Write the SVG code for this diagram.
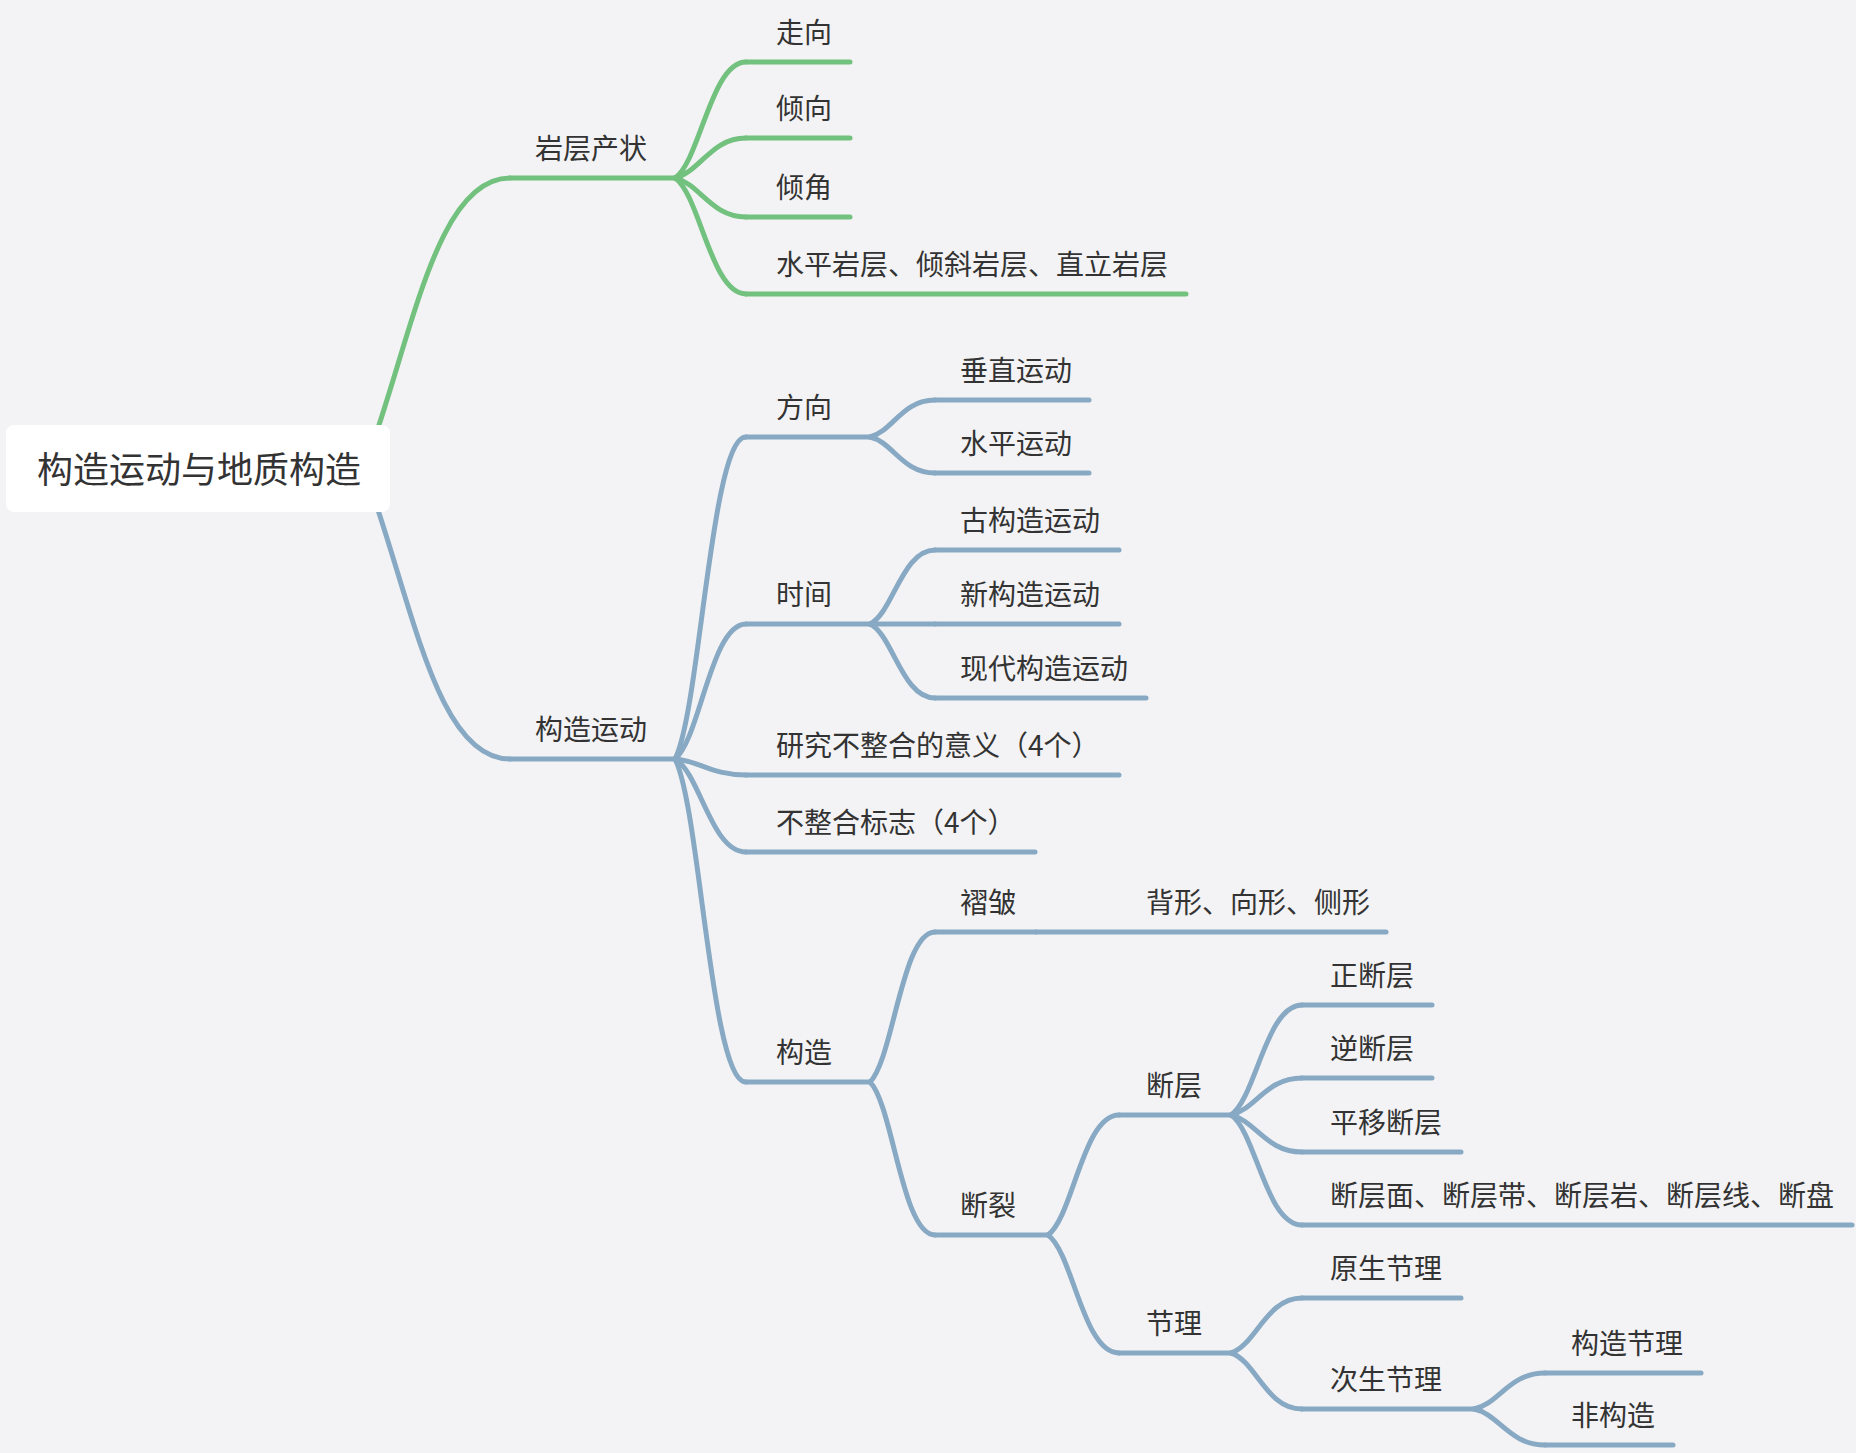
<svg xmlns="http://www.w3.org/2000/svg" width="1856" height="1453" viewBox="0 0 1856 1453">
<style>
  .bg { fill: #f3f3f5; }
  .c { fill: none; stroke-width: 5; stroke-linecap: round; stroke-linejoin: round; }
  .g { stroke: #73c17e; }
  .b { stroke: #88a9c4; }
  .u { fill: none; stroke-width: 5; stroke-linecap: round; }
  text { font-family: "Noto Sans CJK SC", "Noto Sans", sans-serif; fill: #333333; }
  .t { font-size: 28px; }
  .root { font-size: 36px; }
</style>
<rect class="bg" x="0" y="0" width="1856" height="1453"/>

<g id="connectors">
  <path class="c g" d="M374 440 C415 320 440 178 510 178"/>
  <path class="c b" d="M374 498 C415 618 440 759 510 759"/>
  <!-- 岩层产状 children -->
  <path class="c g" d="M675 178 C700 161 711 62 746 62"/>
  <path class="c g" d="M675 178 C700 172 711 138 746 138"/>
  <path class="c g" d="M675 178 C700 184 711 217 746 217"/>
  <path class="c g" d="M675 178 C700 195 711 294 746 294"/>
  <!-- 构造运动 children -->
  <path class="c b" d="M675 759 C700 711 711 437 746 437"/>
  <path class="c b" d="M675 759 C700 739 711 624 746 624"/>
  <path class="c b" d="M675 759 C700 761 711 775 746 775"/>
  <path class="c b" d="M675 759 C700 773 711 852 746 852"/>
  <path class="c b" d="M675 759 C700 807 711 1082 746 1082"/>
  <!-- 方向 -->
  <path class="c b" d="M870 437 C893 431 902 400 935 400"/>
  <path class="c b" d="M870 437 C893 442 902 473 935 473"/>
  <!-- 时间 -->
  <path class="c b" d="M870 624 C893 613 902 550 935 550"/>
  <path class="c b" d="M870 624 L935 624"/>
  <path class="c b" d="M870 624 C893 635 902 698 935 698"/>
  <!-- 构造 -->
  <path class="c b" d="M870 1082 C893 1060 902 932 935 932"/>
  <path class="c b" d="M870 1082 C893 1105 902 1235 935 1235"/>
  <!-- 断裂 -->
  <path class="c b" d="M1048 1235 C1073 1217 1083 1115 1119 1115"/>
  <path class="c b" d="M1048 1235 C1073 1253 1083 1353 1119 1353"/>
  <!-- 断层 -->
  <path class="c b" d="M1231 1115 C1256 1098 1266 1005 1302 1005"/>
  <path class="c b" d="M1231 1115 C1256 1109 1266 1078 1302 1078"/>
  <path class="c b" d="M1231 1115 C1256 1121 1266 1152 1302 1152"/>
  <path class="c b" d="M1231 1115 C1256 1132 1266 1225 1302 1225"/>
  <!-- 节理 -->
  <path class="c b" d="M1231 1353 C1256 1345 1266 1298 1302 1298"/>
  <path class="c b" d="M1231 1353 C1256 1361 1266 1409 1302 1409"/>
  <!-- 次生节理 -->
  <path class="c b" d="M1474 1409 C1499 1404 1509 1373 1545 1373"/>
  <path class="c b" d="M1474 1409 C1499 1414 1509 1445 1545 1445"/>
</g>

<g id="node-root">
  <rect x="6" y="425" width="384" height="87" rx="8" ry="8" fill="#ffffff"/>
  <text class="root" x="37" y="483">构造运动与地质构造</text>
</g>

<g id="node-yanceng">
  <line class="u g" x1="510" y1="178" x2="675" y2="178"/>
  <text class="t" x="535" y="159">岩层产状</text>
</g>
<g id="node-zouxiang">
  <line class="u g" x1="746" y1="62" x2="850" y2="62"/>
  <text class="t" x="776" y="43">走向</text>
</g>
<g id="node-qingxiang">
  <line class="u g" x1="746" y1="138" x2="850" y2="138"/>
  <text class="t" x="776" y="119">倾向</text>
</g>
<g id="node-qingjiao">
  <line class="u g" x1="746" y1="217" x2="850" y2="217"/>
  <text class="t" x="776" y="198">倾角</text>
</g>
<g id="node-shuiping-yanceng">
  <line class="u g" x1="746" y1="294" x2="1186" y2="294"/>
  <text class="t" x="776" y="275">水平岩层、倾斜岩层、直立岩层</text>
</g>

<g id="node-gouzaoyundong">
  <line class="u b" x1="510" y1="759" x2="675" y2="759"/>
  <text class="t" x="535" y="740">构造运动</text>
</g>
<g id="node-fangxiang">
  <line class="u b" x1="746" y1="437" x2="870" y2="437"/>
  <text class="t" x="776" y="418">方向</text>
</g>
<g id="node-chuizhi">
  <line class="u b" x1="935" y1="400" x2="1089" y2="400"/>
  <text class="t" x="960" y="381">垂直运动</text>
</g>
<g id="node-shuipingyundong">
  <line class="u b" x1="935" y1="473" x2="1089" y2="473"/>
  <text class="t" x="960" y="454">水平运动</text>
</g>
<g id="node-shijian">
  <line class="u b" x1="746" y1="624" x2="870" y2="624"/>
  <text class="t" x="776" y="605">时间</text>
</g>
<g id="node-gu">
  <line class="u b" x1="935" y1="550" x2="1119" y2="550"/>
  <text class="t" x="960" y="531">古构造运动</text>
</g>
<g id="node-xin">
  <line class="u b" x1="935" y1="624" x2="1119" y2="624"/>
  <text class="t" x="960" y="605">新构造运动</text>
</g>
<g id="node-xiandai">
  <line class="u b" x1="935" y1="698" x2="1146" y2="698"/>
  <text class="t" x="960" y="679">现代构造运动</text>
</g>
<g id="node-yanjiu">
  <line class="u b" x1="746" y1="775" x2="1119" y2="775"/>
  <text class="t" x="776" y="756">研究不整合的意义（4个）</text>
</g>
<g id="node-biaozhi">
  <line class="u b" x1="746" y1="852" x2="1035" y2="852"/>
  <text class="t" x="776" y="833">不整合标志（4个）</text>
</g>
<g id="node-gouzao">
  <line class="u b" x1="746" y1="1082" x2="870" y2="1082"/>
  <text class="t" x="776" y="1063">构造</text>
</g>
<g id="node-zhouzhou">
  <line class="u b" x1="935" y1="932" x2="1036" y2="932"/>
  <text class="t" x="960" y="913">褶皱</text>
</g>
<g id="node-beixing">
  <line class="u b" x1="1036" y1="932" x2="1386" y2="932"/>
  <text class="t" x="1146" y="913">背形、向形、侧形</text>
</g>
<g id="node-duanlie">
  <line class="u b" x1="935" y1="1235" x2="1048" y2="1235"/>
  <text class="t" x="960" y="1216">断裂</text>
</g>
<g id="node-duanceng">
  <line class="u b" x1="1119" y1="1115" x2="1231" y2="1115"/>
  <text class="t" x="1146" y="1096">断层</text>
</g>
<g id="node-zheng">
  <line class="u b" x1="1302" y1="1005" x2="1432" y2="1005"/>
  <text class="t" x="1330" y="986">正断层</text>
</g>
<g id="node-ni">
  <line class="u b" x1="1302" y1="1078" x2="1432" y2="1078"/>
  <text class="t" x="1330" y="1059">逆断层</text>
</g>
<g id="node-pingyi">
  <line class="u b" x1="1302" y1="1152" x2="1461" y2="1152"/>
  <text class="t" x="1330" y="1133">平移断层</text>
</g>
<g id="node-duancengmian">
  <line class="u b" x1="1302" y1="1225" x2="1852" y2="1225"/>
  <text class="t" x="1330" y="1206">断层面、断层带、断层岩、断层线、断盘</text>
</g>
<g id="node-jieli">
  <line class="u b" x1="1119" y1="1353" x2="1231" y2="1353"/>
  <text class="t" x="1146" y="1334">节理</text>
</g>
<g id="node-yuansheng">
  <line class="u b" x1="1302" y1="1298" x2="1461" y2="1298"/>
  <text class="t" x="1330" y="1279">原生节理</text>
</g>
<g id="node-cisheng">
  <line class="u b" x1="1302" y1="1409" x2="1474" y2="1409"/>
  <text class="t" x="1330" y="1390">次生节理</text>
</g>
<g id="node-gouzaojieli">
  <line class="u b" x1="1545" y1="1373" x2="1701" y2="1373"/>
  <text class="t" x="1571" y="1354">构造节理</text>
</g>
<g id="node-feigouzao">
  <line class="u b" x1="1545" y1="1445" x2="1673" y2="1445"/>
  <text class="t" x="1571" y="1426">非构造</text>
</g>
</svg>
